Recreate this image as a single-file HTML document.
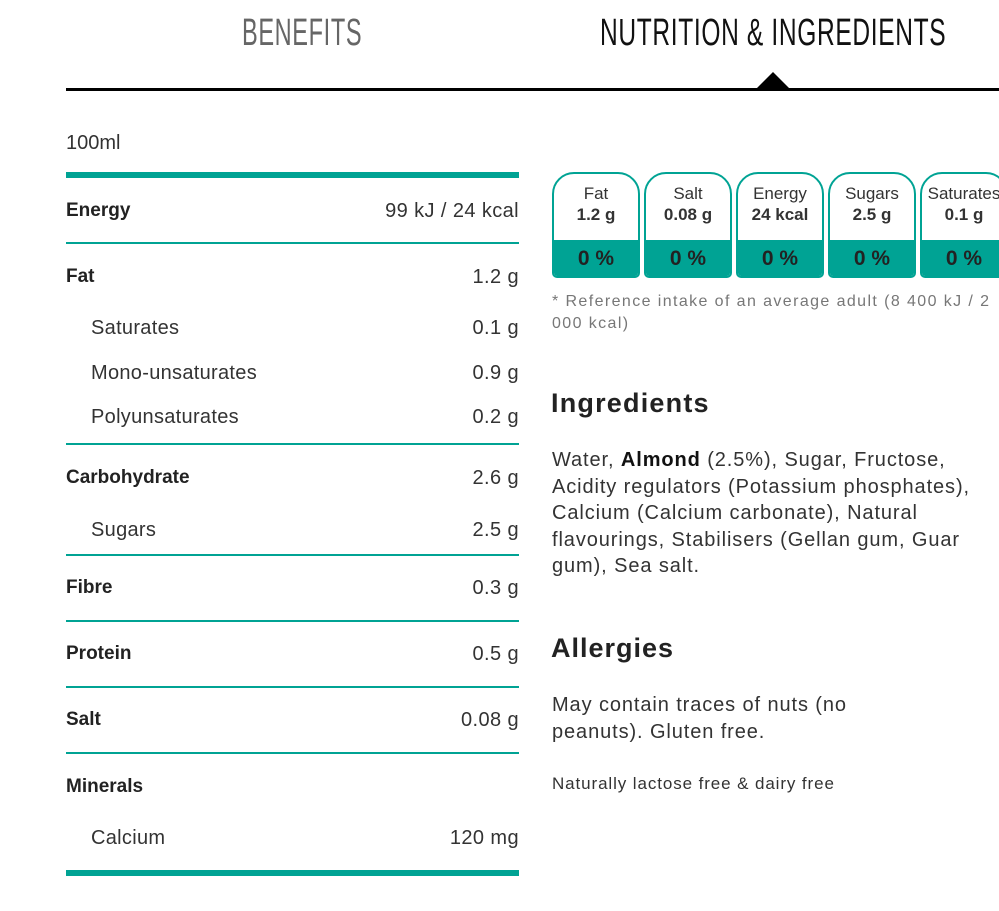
<!DOCTYPE html>
<html><head><meta charset="utf-8"><style>
body{margin:0;width:999px;height:911px;background:#fff;position:relative;overflow:hidden;font-family:"Liberation Sans",sans-serif;color:#222}
.a{position:absolute;white-space:nowrap}
.tab{font-size:38px;transform:scaleX(0.62);transform-origin:left top;letter-spacing:1px}
.tl{position:absolute;left:66px;width:453px;background:#00a394}
.r{position:absolute;left:66px;width:453px;font-size:20px;color:#333}
.r .l{position:absolute;left:0}
.r .s{position:absolute;left:25px;letter-spacing:0.3px}
.r .v{position:absolute;right:0;letter-spacing:0.4px}
.b{font-weight:bold;color:#222;font-size:19px}
.box{position:absolute;top:172px;width:84px;height:102px;border:2px solid #00a394;border-radius:22px 22px 5px 5px;overflow:hidden;text-align:center;background:#fff}
.box .n{margin-top:10px;font-size:17px;color:#333;line-height:20px}
.box .q{font-size:17px;font-weight:bold;color:#333;line-height:22px}
.box .p{position:absolute;left:0;right:0;bottom:0;height:36px;background:#00a394;font-size:21px;font-weight:bold;color:#222;line-height:38px}
.t{font-size:20px;color:#333;line-height:26.5px;letter-spacing:0.9px}
</style></head><body>
<div class="a tab" style="left:242px;top:12px;color:#666">BENEFITS</div>
<div class="a tab" style="left:600px;top:12px;color:#111;transform:scaleX(0.646)">NUTRITION &amp; INGREDIENTS</div>
<div style="position:absolute;left:66px;top:88px;width:933px;height:3px;background:#000"></div>
<div style="position:absolute;left:756px;top:72px;width:0;height:0;border-left:17px solid transparent;border-right:17px solid transparent;border-bottom:17px solid #000"></div>

<div class="a" style="left:66px;top:132px;font-size:20px;color:#333">100ml</div>
<div class="tl" style="top:172px;height:6px"></div>
<div class="tl" style="top:242px;height:2px"></div>
<div class="tl" style="top:443px;height:2px"></div>
<div class="tl" style="top:554px;height:2px"></div>
<div class="tl" style="top:620px;height:2px"></div>
<div class="tl" style="top:686px;height:2px"></div>
<div class="tl" style="top:752px;height:2px"></div>
<div class="tl" style="top:870px;height:6px"></div>

<div class="r" style="top:200px"><span class="l b">Energy</span><span class="v">99 kJ / 24 kcal</span></div>
<div class="r" style="top:266px"><span class="l b">Fat</span><span class="v">1.2 g</span></div>
<div class="r" style="top:317px"><span class="s">Saturates</span><span class="v">0.1 g</span></div>
<div class="r" style="top:362px"><span class="s">Mono-unsaturates</span><span class="v">0.9 g</span></div>
<div class="r" style="top:406px"><span class="s">Polyunsaturates</span><span class="v">0.2 g</span></div>
<div class="r" style="top:467px"><span class="l b">Carbohydrate</span><span class="v">2.6 g</span></div>
<div class="r" style="top:519px"><span class="s">Sugars</span><span class="v">2.5 g</span></div>
<div class="r" style="top:577px"><span class="l b">Fibre</span><span class="v">0.3 g</span></div>
<div class="r" style="top:643px"><span class="l b">Protein</span><span class="v">0.5 g</span></div>
<div class="r" style="top:709px"><span class="l b">Salt</span><span class="v">0.08 g</span></div>
<div class="r" style="top:776px"><span class="l b">Minerals</span></div>
<div class="r" style="top:827px"><span class="s">Calcium</span><span class="v">120 mg</span></div>

<div class="box" style="left:552px"><div class="n">Fat</div><div class="q">1.2 g</div><div class="p">0 %</div></div>
<div class="box" style="left:644px"><div class="n">Salt</div><div class="q">0.08 g</div><div class="p">0 %</div></div>
<div class="box" style="left:736px"><div class="n">Energy</div><div class="q">24 kcal</div><div class="p">0 %</div></div>
<div class="box" style="left:828px"><div class="n">Sugars</div><div class="q">2.5 g</div><div class="p">0 %</div></div>
<div class="box" style="left:920px"><div class="n">Saturates</div><div class="q">0.1 g</div><div class="p">0 %</div></div>

<div class="a" style="left:552px;top:291px;font-size:16px;color:#777;line-height:22px;letter-spacing:1.4px">* Reference intake of an average adult (8 400 kJ / 2<br>000 kcal)</div>

<div class="a" style="left:551px;top:388px;font-size:27px;font-weight:bold;color:#222;letter-spacing:1.2px">Ingredients</div>
<div class="a t" style="left:552px;top:447px">Water, <b style="color:#111">Almond</b> (2.5%), Sugar, Fructose,<br>Acidity regulators (Potassium phosphates),<br>Calcium (Calcium carbonate), Natural<br>flavourings, Stabilisers (Gellan gum, Guar<br>gum), Sea salt.</div>

<div class="a" style="left:551px;top:633px;font-size:27px;font-weight:bold;color:#222;letter-spacing:1px">Allergies</div>
<div class="a t" style="left:552px;top:692px">May contain traces of nuts (no<br>peanuts). Gluten free.</div>
<div class="a" style="left:552px;top:774px;font-size:17px;color:#333;letter-spacing:0.9px">Naturally lactose free &amp; dairy free</div>
</body></html>
